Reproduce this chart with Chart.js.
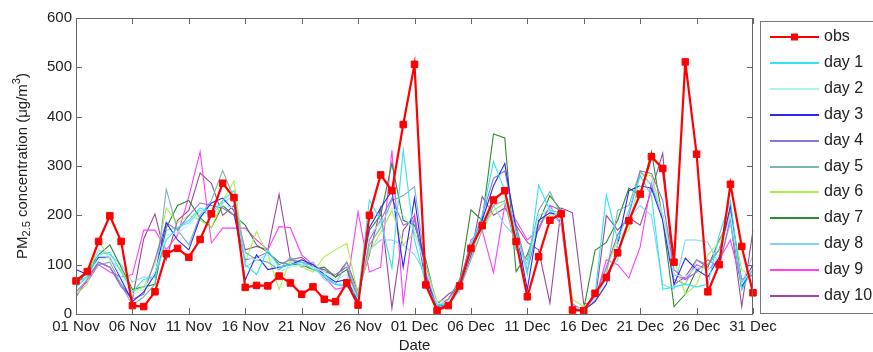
<!DOCTYPE html>
<html>
<head>
<meta charset="utf-8">
<script src="https://cdn.jsdelivr.net/npm/chart.js@4.4.0/dist/chart.umd.min.js"></script>
<style>
  html, body { margin: 0; padding: 0; background: #fff; }
</style>
</head>
<body>
<canvas id="myChart" width="873" height="352"></canvas>
<script>
// dates (categories)
const dates = [
  '01 Nov','02 Nov','03 Nov','04 Nov','05 Nov','06 Nov','07 Nov','08 Nov','09 Nov','10 Nov',
  '11 Nov','12 Nov','13 Nov','14 Nov','15 Nov','16 Nov','17 Nov','18 Nov','19 Nov','20 Nov',
  '21 Nov','22 Nov','23 Nov','24 Nov','25 Nov','26 Nov','27 Nov','28 Nov','29 Nov','30 Nov',
  '01 Dec','02 Dec','03 Dec','04 Dec','05 Dec','06 Dec','07 Dec','08 Dec','09 Dec','10 Dec',
  '11 Dec','12 Dec','13 Dec','14 Dec','15 Dec','16 Dec','17 Dec','18 Dec','19 Dec','20 Dec',
  '21 Dec','22 Dec','23 Dec','24 Dec','25 Dec','26 Dec','27 Dec','28 Dec','29 Dec','30 Dec',
  '31 Dec'
];
const xTickLabels = ['01 Nov','06 Nov','11 Nov','16 Nov','21 Nov','26 Nov','01 Dec','06 Dec','11 Dec','16 Dec','21 Dec','26 Dec','31 Dec'];
const yTicks = [0, 100, 200, 300, 400, 500, 600];

// observed PM2.5
const obs = [
  67, 86, 147, 199, 147, 17, 15, 45, 122, 133,
  115, 151, 203, 265, 236, 54, 58, 57, 77, 63,
  40, 55, 30, 25, 63, 18, 200, 282, 250, 384,
  506, 59, 7, 17, 57, 133, 179, 231, 250, 147,
  35, 116, 190, 203, 8, 7, 42, 74, 124, 189,
  243, 319, 295, 105, 511, 324, 45, 100, 263, 137,
  43
];

// forecasts, lead day 1..10
const day1 = [
  55, 75, 120, 125, 85, 45, 70, 75, 150, 175,
  190, 215, 205, 230, 250, 100, 80, 130, 95, 100,
  105, 90, 80, 60, 55, 35, 231, 190, 93, 332,
  150, 60, 18, 20, 60, 140, 200, 309, 250, 170,
  80, 261, 210, 205, 12, 8, 40, 241, 150, 210,
  280, 240, 50, 55, 60, 55, 60, 160, 230, 50,
  90
];
const day2 = [
  50, 80, 110, 115, 75, 40, 50, 85, 160, 165,
  180, 205, 215, 220, 215, 115, 110, 120, 85, 95,
  100, 95, 85, 70, 80, 30, 160, 185, 215, 200,
  170, 90, 20, 25, 55, 125, 180, 240, 235, 155,
  95, 200, 215, 190, 15, 10, 30, 70, 140, 190,
  260, 270, 200, 80, 75, 95, 90, 120, 200, 60,
  95
];
const day3 = [
  90, 80, 115, 115, 70, 25, 45, 80, 185, 150,
  130, 195, 225, 235, 210, 69, 120, 90, 95, 100,
  110, 100, 80, 65, 70, 25, 175, 215, 250, 95,
  235, 75, 10, 20, 55, 120, 190, 260, 305, 170,
  50, 190, 205, 200, 10, 8, 25, 60, 140, 250,
  260, 255, 190, 60, 113, 90, 75, 115, 220, 55,
  100
];
const day4 = [
  65, 75, 105, 95, 55, 30, 40, 110, 185, 170,
  200, 225, 220, 215, 200, 110, 115, 125, 100, 110,
  105, 100, 85, 80, 95, 30, 150, 190, 235, 180,
  190, 85, 15, 30, 70, 130, 200, 275, 290, 180,
  90, 175, 220, 210, 20, 8, 35, 95, 160, 200,
  290, 285, 230, 90, 70, 85, 110, 95, 195, 70,
  80
];
const day5 = [
  45, 70, 100, 105, 60, 18, 35, 60, 253, 170,
  140, 200, 230, 291, 235, 125, 110, 105, 90, 115,
  95, 105, 75, 60, 105, 35, 140, 175, 230, 240,
  258, 95, 20, 18, 50, 110, 170, 220, 230, 130,
  110, 210, 248, 200, 12, 8, 25, 80, 210, 220,
  290, 260, 200, 70, 60, 110, 100, 130, 210, 65,
  80
];
const day6 = [
  40, 60, 150, 110, 90, 45, 55, 100, 215, 185,
  200, 190, 175, 230, 270, 105, 167, 120, 50, 110,
  95, 85, 116, 130, 143, 40, 125, 165, 210, 140,
  165, 100, 25, 30, 70, 115, 170, 210, 225, 175,
  90, 185, 200, 205, 30, 15, 35, 90, 150, 170,
  285, 280, 200, 110, 40, 60, 120, 145, 200, 90,
  75
];
const day7 = [
  60, 85, 120, 140, 95, 50, 55, 60, 175, 220,
  230, 195, 175, 220, 200, 180, 140, 125, 105, 100,
  100, 90, 95, 75, 90, 25, 170, 200, 306, 190,
  180, 110, 15, 20, 65, 211, 190, 365, 357, 86,
  120, 185, 240, 210, 10, 10, 129, 145, 190, 255,
  240, 329, 190, 15, 40, 90, 100, 130, 200, 50,
  100
];
const day8 = [
  70, 80, 130, 120, 100, 65, 75, 75, 170, 175,
  185, 210, 200, 225, 240, 95, 110, 105, 90, 105,
  110, 100, 70, 60, 60, 45, 130, 150, 150, 140,
  120, 80, 20, 22, 45, 145, 175, 220, 180, 157,
  100, 200, 210, 180, 15, 10, 40, 80, 110, 195,
  220, 200, 60, 50, 150, 150, 145, 100, 185, 60,
  120
];
const day9 = [
  45, 65, 100, 85, 75, 80, 170, 170, 130, 160,
  238, 329, 144, 174, 174, 174, 150, 130, 177, 175,
  120, 100, 75, 50, 55, 207, 85, 95, 332, 22,
  200, 80, 15, 30, 60, 150, 170, 84, 220, 190,
  150, 170, 220, 180, 10, 8, 30, 110, 100, 73,
  136, 268, 200, 80, 70, 100, 90, 110, 150, 60,
  90
];
const day10 = [
  35, 70, 105, 95, 60, 30, 152, 203, 110, 190,
  210, 286, 265, 200, 220, 130, 137, 130, 243, 110,
  115, 95, 90, 75, 105, 45, 120, 215, 12, 170,
  200, 60, 20, 40, 55, 120, 238, 200, 215, 180,
  145, 130, 22, 215, 205, 20, 25, 200, 170, 195,
  180, 250, 326, 60, 75, 110, 95, 150, 190, 15,
  170
];

const forecasts = [day1, day2, day3, day4, day5, day6, day7, day8, day9, day10];
const forecastNames = ['day 1', 'day 2', 'day 3', 'day 4', 'day 5', 'day 6', 'day 7', 'day 8', 'day 9', 'day 10'];
const forecastColors = ['#30e4f4', '#b0f2f2', '#2a2af0', '#9370db', '#7fb3b3', '#a8f04c', '#2e8b2e', '#80d4f8', '#ff3cff', '#9a4a9a'];

const datasets = [{
  label: 'obs',
  data: obs,
  borderColor: '#ff0000',
  backgroundColor: '#ff0000',
  borderWidth: 2.2,
  pointStyle: 'rect',
  pointRadius: 4.6,
  pointBorderWidth: 1,
  tension: 0
}];
forecasts.forEach((d, i) => {
  datasets.push({
    label: forecastNames[i],
    data: d,
    borderColor: forecastColors[i],
    backgroundColor: forecastColors[i],
    borderWidth: 1.1,
    pointRadius: 0,
    tension: 0
  });
});

const FONT = '"Liberation Sans", Arial, sans-serif';

// box, inner ticks, axis titles and legend
const decor = {
  id: 'decor',
  afterDraw(chart) {
    const ctx = chart.ctx;
    const a = chart.chartArea;
    const xs = chart.scales.x, ys = chart.scales.y;
    ctx.save();
    ctx.strokeStyle = '#666';
    ctx.lineWidth = 1;
    ctx.strokeRect(a.left + 0.5, a.top + 0.5, a.right - a.left - 1, a.bottom - a.top);
    ctx.beginPath();
    dates.forEach((d, i) => {
      if (!xTickLabels.includes(d)) return;
      const px = Math.round(xs.getPixelForValue(i)) + 0.5;
      ctx.moveTo(px, a.bottom); ctx.lineTo(px, a.bottom - 6);
      ctx.moveTo(px, a.top); ctx.lineTo(px, a.top + 6);
    });
    yTicks.forEach(v => {
      const py = Math.round(ys.getPixelForValue(v)) + 0.5;
      ctx.moveTo(a.left, py); ctx.lineTo(a.left + 6, py);
      ctx.moveTo(a.right, py); ctx.lineTo(a.right - 6, py);
    });
    ctx.stroke();

    // x title
    ctx.fillStyle = '#222';
    ctx.font = '15px ' + FONT;
    ctx.textAlign = 'center';
    ctx.textBaseline = 'middle';
    ctx.fillText('Date', (a.left + a.right) / 2, 346);

    // y title with sub/superscript
    const parts = [
      ['PM', 15, 0], ['2.5', 11, 4], [' concentration (\u03bcg/m', 15, 0], ['3', 11, -6], [')', 15, 0]
    ];
    let total = 0;
    parts.forEach(p => { ctx.font = p[1] + 'px ' + FONT; total += ctx.measureText(p[0]).width; });
    ctx.translate(23, (a.top + a.bottom) / 2);
    ctx.rotate(-Math.PI / 2);
    ctx.textAlign = 'left';
    let cx = -total / 2;
    parts.forEach(p => {
      ctx.font = p[1] + 'px ' + FONT;
      ctx.fillText(p[0], cx, p[2]);
      cx += ctx.measureText(p[0]).width;
    });
    ctx.restore();

    // legend
    ctx.save();
    ctx.strokeStyle = '#777';
    ctx.lineWidth = 1;
    ctx.strokeRect(760.5, 21.5, 130, 292);
    ctx.font = '16px ' + FONT;
    ctx.textAlign = 'left';
    ctx.textBaseline = 'middle';
    chart.data.datasets.forEach((ds, i) => {
      const ly = Math.round(37 + i * 25.9);
      ctx.strokeStyle = forecastColors[i - 1] || '#ff0000';
      ctx.lineWidth = 2;
      ctx.beginPath();
      ctx.moveTo(770, ly); ctx.lineTo(819, ly);
      ctx.stroke();
      if (i === 0) {
        ctx.fillStyle = '#ff0000';
        ctx.fillRect(791, ly - 3.5, 7, 7);
      }
      ctx.fillStyle = '#222';
      ctx.fillText(ds.label, 824, ly);
    });
    ctx.restore();
  }
};

const ctx = document.getElementById('myChart').getContext('2d');
const myChart = new Chart(ctx, {
  type: 'line',
  data: { labels: dates, datasets: datasets },
  options: {
    responsive: false,
    animation: false,
    devicePixelRatio: 1,
    layout: { padding: { left: 0, right: 120, top: 18, bottom: 0 } },
    plugins: { legend: { display: false }, tooltip: { enabled: false } },
    scales: {
      x: {
        type: 'category',
        offset: false,
        grid: { display: false, drawTicks: false },
        border: { display: false },
        ticks: {
          autoSkip: false,
          maxRotation: 0,
          padding: 4,
          color: '#222',
          font: { family: FONT, size: 15 },
          callback: function (value) {
            const lab = this.getLabelForValue(value);
            return xTickLabels.includes(lab) ? lab : '';
          }
        },
        afterFit: s => { s.height = 38; }
      },
      y: {
        min: 0,
        max: 600,
        grid: { display: false, drawTicks: false },
        border: { display: false },
        ticks: {
          stepSize: 100,
          padding: 4,
          color: '#222',
          font: { family: FONT, size: 15 }
        },
        afterFit: s => { s.width = 76; }
      }
    }
  },
  plugins: [decor]
});
</script>
</body>
</html>
